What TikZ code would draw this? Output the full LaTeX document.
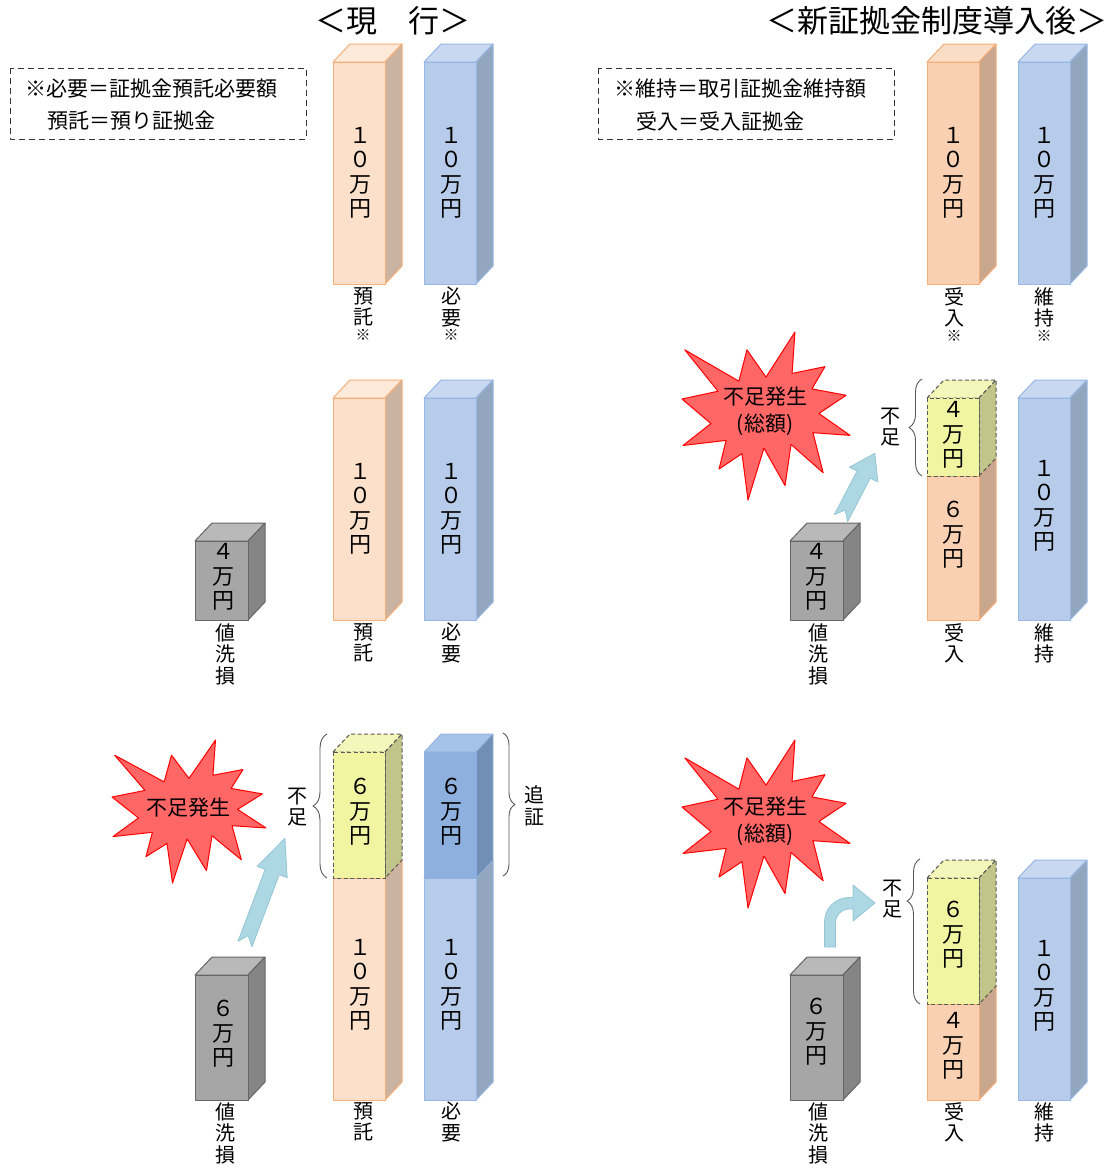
\documentclass[tikz,border=0pt]{standalone}
\usepackage{fontspec}
\setmainfont{Noto Sans CJK JP}
\usetikzlibrary{decorations.pathreplacing}
\definecolor{orL}{HTML}{FCE0C9}
\definecolor{orLtop}{HTML}{FDEADB}
\definecolor{orLside}{HTML}{CBB3A1}
\definecolor{orR}{HTML}{F9D1B2}
\definecolor{orRtop}{HTML}{FADDC6}
\definecolor{orRside}{HTML}{C8A78E}
\definecolor{orEdge}{HTML}{F6AE78}
\definecolor{bl}{HTML}{B7CCEA}
\definecolor{bltop}{HTML}{C7D8F0}
\definecolor{blside}{HTML}{93A6BF}
\definecolor{blEdge}{HTML}{97B8E3}
\definecolor{dbl}{HTML}{8DB0DE}
\definecolor{dbltop}{HTML}{A5C2E8}
\definecolor{dblside}{HTML}{718EB4}
\definecolor{ye}{HTML}{F1F5A2}
\definecolor{yetop}{HTML}{F4F7B9}
\definecolor{yeside}{HTML}{C2C589}
\definecolor{gr}{HTML}{A6A6A6}
\definecolor{grtop}{HTML}{B9B9B9}
\definecolor{grside}{HTML}{858585}
\definecolor{grEdge}{HTML}{666666}
\definecolor{dashEdge}{HTML}{5A5A5A}
\definecolor{starFill}{HTML}{FF6666}
\definecolor{starEdge}{HTML}{FF0000}
\definecolor{arFill}{HTML}{ADD8E3}
\definecolor{arEdge}{HTML}{92C6D6}
\definecolor{braceGray}{HTML}{595959}
\newcommand{\drawcube}[8]{%
  \pgfmathsetmacro{\cubexa}{#1+17}\pgfmathsetmacro{\cubexb}{#3+17}%
  \pgfmathsetmacro{\cubeya}{#2-18}\pgfmathsetmacro{\cubeyb}{#4-18}%
  \filldraw[#8,fill=#6] (#1,#2) -- (\cubexa,\cubeya) -- (\cubexb,\cubeya) -- (#3,#2) -- cycle;
  \filldraw[#8,fill=#7] (#3,#2) -- (\cubexb,\cubeya) -- (\cubexb,\cubeyb) -- (#3,#4) -- cycle;
  \filldraw[#8,fill=#5] (#1,#2) rectangle (#3,#4);
}
\newcommand{\drawseal}[4]{%
  \begin{scope}[shift={(#1,#2)},xscale=#3/100,yscale=#4/100]
  \filldraw[fill=starFill,draw=starEdge,line width=1pt]
   (50,26.85) -- (67.23,0) -- (65.53,24.65) -- (85.09,20.63) -- (77.32,33.87) -- (97.67,37.67) --
   (81.51,48.50) -- (100,61.53) -- (77.95,59.92) -- (84.00,83.77) -- (64.91,66.93) -- (61.33,91.38) --
   (48.76,69.14) -- (39.28,100) -- (35.72,72.35) -- (22.05,81.56) -- (26.24,64.52) -- (0.63,67.53) --
   (17.23,54.51) -- (0,39.88) -- (21.42,35.26) -- (1.71,10.63) -- (33.85,29.26) -- (38.67,10.63) -- cycle;
  \end{scope}}
\newcommand{\notcharrow}[5]{% x,y,angle,length,headstart
  \begin{scope}[shift={(#1,#2)},rotate=#3]
  \filldraw[fill=arFill,draw=arEdge,line width=0.8pt]
   (0,-7.5) -- (#5,-7.5) -- (#5,-16) -- (#4,0) -- (#5,16) -- (#5,7.5) -- (0,7.5) -- (9,0) -- cycle;
  \end{scope}}
\newcommand{\kome}{{\fontsize{15}{15}\selectfont ※}}
\begin{document}
\begin{tikzpicture}[x=1pt,y=-1pt,line join=round,
  txt/.style={inner sep=0pt,align=center,font=\fontsize{22}{24.5}\selectfont},
  lbl/.style={inner sep=0pt,align=center,anchor=north,font=\fontsize{20}{21.5}\selectfont},
  legend/.style={inner sep=0pt,anchor=west,font=\fontsize{21}{21}\selectfont},
  ttl/.style={inner sep=0pt,font=\fontsize{31}{31}\selectfont},
  startxt/.style={inner sep=0pt,align=center,font=\fontsize{21}{27}\selectfont},
  side/.style={inner sep=0pt,align=center,font=\fontsize{20}{21.5}\selectfont},
  edgeOr/.style={draw=orEdge,line width=1pt},
  edgeBl/.style={draw=blEdge,line width=1pt},
  edgeDbl/.style={draw=dbl,line width=0.6pt},
  edgeGr/.style={draw=grEdge,line width=1pt},
  edgeYe/.style={draw=dashEdge,line width=1pt,dash pattern=on 4pt off 2.5pt},
  brc/.style={draw=braceGray,line width=0.9pt,decorate},
  legbox/.style={draw=black!80,line width=1pt,dash pattern=on 6pt off 4pt}]
\useasboundingbox (0,0) rectangle (1113,1168);
\fill[white] (0,0) rectangle (1113,1168);
% titles
\node[ttl] (title1) at (393,21) {＜現　行＞};
\node[ttl] (title2) at (937,21) {＜新証拠金制度導入後＞};
% legends
\draw[legbox] (10,68) rectangle (306,139);
\node[legend] (leg1a) at (25,89) {※必要＝証拠金預託必要額};
\node[legend] (leg1b) at (47,121) {預託＝預り証拠金};
\draw[legbox] (598,68) rectangle (894,139);
\node[legend] (leg2a) at (614,89) {※維持＝取引証拠金維持額};
\node[legend] (leg2b) at (636,121) {受入＝受入証拠金};
% ---------------- left row 1
\drawcube{333}{62}{385}{284}{orL}{orLtop}{orLside}{edgeOr}
\drawcube{424}{62}{476}{284}{bl}{bltop}{blside}{edgeBl}
\node[txt] (a1) at (360,173) {１\\０\\万\\円};
\node[txt] (a2) at (451,173) {１\\０\\万\\円};
\node[lbl] (la1) at (363,287) {預\\託\\[-6pt]\kome};
\node[lbl] (la2) at (451,287) {必\\要\\[-6pt]\kome};
% ---------------- left row 2
\drawcube{333}{398}{385}{620}{orL}{orLtop}{orLside}{edgeOr}
\drawcube{424}{398}{476}{620}{bl}{bltop}{blside}{edgeBl}
\drawcube{195}{541}{248}{620}{gr}{grtop}{grside}{edgeGr}
\node[txt] (b1) at (360,509) {１\\０\\万\\円};
\node[txt] (b2) at (451,509) {１\\０\\万\\円};
\node[txt] (b3) at (223,577) {４\\万\\円};
\node[lbl] (lb3) at (225,623) {値\\洗\\損};
\node[lbl] (lb1) at (363,623) {預\\託};
\node[lbl] (lb2) at (451,623) {必\\要};
% ---------------- left row 3
\drawcube{333}{878}{385}{1100}{orL}{orLtop}{orLside}{edgeOr}
\drawcube{333}{752}{385}{878}{ye}{yetop}{yeside}{edgeYe}
\drawcube{424}{878}{476}{1100}{bl}{bltop}{blside}{edgeBl}
\drawcube{424}{752}{476}{878}{dbl}{dbltop}{dblside}{edgeDbl}
\drawcube{195}{975}{248}{1100}{gr}{grtop}{grside}{edgeGr}
\node[txt] (c1) at (360,812) {６\\万\\円};
\node[txt] (c2) at (451,812) {６\\万\\円};
\node[txt] (c3) at (360,985) {１\\０\\万\\円};
\node[txt] (c4) at (451,985) {１\\０\\万\\円};
\node[txt] (c5) at (223,1034) {６\\万\\円};
\node[lbl] (lc5) at (225,1102) {値\\洗\\損};
\node[lbl] (lc1) at (363,1102) {預\\託};
\node[lbl] (lc2) at (451,1102) {必\\要};
\coordinate (brA1) at (327,878);
\coordinate (brA2) at (327,734);
\draw[brc,decoration={brace,amplitude=14pt}] (brA1) -- (brA2);
\coordinate (brB1) at (503,733);
\coordinate (brB2) at (503,876);
\draw[brc,decoration={brace,amplitude=12pt}] (brB1) -- (brB2);
\node[side] (fusokuA) at (297,807) {不\\足};
\node[side] (tsuisho) at (534,806) {追\\証};
\drawseal{112}{740}{154}{143}
\node[startxt] (starA) at (188,808) {不足発生};
\notcharrow{245}{944}{69.3}{113}{77}
% ---------------- right row 1
\drawcube{927}{62}{979}{284}{orR}{orRtop}{orRside}{edgeOr}
\drawcube{1018}{62}{1070}{284}{bl}{bltop}{blside}{edgeBl}
\node[txt] (d1) at (953,173) {１\\０\\万\\円};
\node[txt] (d2) at (1044,173) {１\\０\\万\\円};
\node[lbl] (ld1) at (954,287) {受\\入\\[-6pt]\kome};
\node[lbl] (ld2) at (1044,287) {維\\持\\[-6pt]\kome};
% ---------------- right row 2
\drawcube{927}{476}{979}{620}{orR}{orRtop}{orRside}{edgeOr}
\drawcube{927}{398}{979}{476}{ye}{yetop}{yeside}{edgeYe}
\drawcube{1018}{398}{1070}{620}{bl}{bltop}{blside}{edgeBl}
\drawcube{790}{541}{843}{620}{gr}{grtop}{grside}{edgeGr}
\node[txt] (e1) at (953,435) {４\\万\\円};
\node[txt] (e2) at (953,535) {６\\万\\円};
\node[txt] (e3) at (1044,506) {１\\０\\万\\円};
\node[txt] (e4) at (816,577) {４\\万\\円};
\node[lbl] (le4) at (818,623) {値\\洗\\損};
\node[lbl] (le1) at (954,623) {受\\入};
\node[lbl] (le3) at (1044,623) {維\\持};
\coordinate (brC1) at (922,476);
\coordinate (brC2) at (922,379);
\draw[brc,decoration={brace,amplitude=13pt}] (brC1) -- (brC2);
\node[side] (fusokuB) at (890,427) {不\\足};
\drawseal{682}{332}{168}{168}
\node[startxt] (starB) at (765,411) {不足発生\\(総額)};
\notcharrow{841}{518}{62.4}{73}{49}
% ---------------- right row 3
\drawcube{927}{1004}{979}{1100}{orR}{orRtop}{orRside}{edgeOr}
\drawcube{927}{878}{979}{1004}{ye}{yetop}{yeside}{edgeYe}
\drawcube{1018}{878}{1070}{1100}{bl}{bltop}{blside}{edgeBl}
\drawcube{790}{975}{843}{1100}{gr}{grtop}{grside}{edgeGr}
\node[txt] (f1) at (953,935) {６\\万\\円};
\node[txt] (f2) at (953,1046) {４\\万\\円};
\node[txt] (f3) at (1044,986) {１\\０\\万\\円};
\node[txt] (f4) at (816,1032) {６\\万\\円};
\node[lbl] (lf4) at (818,1102) {値\\洗\\損};
\node[lbl] (lf1) at (954,1102) {受\\入};
\node[lbl] (lf3) at (1044,1102) {維\\持};
\coordinate (brD1) at (920,1004);
\coordinate (brD2) at (920,859);
\draw[brc,decoration={brace,amplitude=13pt,aspect=0.71}] (brD1) -- (brD2);
\node[side] (fusokuC) at (892,899) {不\\足};
\drawseal{682}{740}{168}{168}
\node[startxt] (starC) at (765,821) {不足発生\\(総額)};
\filldraw[fill=arFill,draw=arEdge,line width=0.8pt]
  (824.5,947) -- (824.5,922) .. controls (824.5,908.5) and (835.5,897.5) .. (849,897.5)
  -- (853,897.5) -- (853,885) -- (875,903) -- (853,921) -- (853,909) -- (849,909)
  .. controls (841.5,909) and (835.5,915) .. (835.5,922.5) -- (835.5,947) -- cycle;
\end{tikzpicture}
\end{document}
